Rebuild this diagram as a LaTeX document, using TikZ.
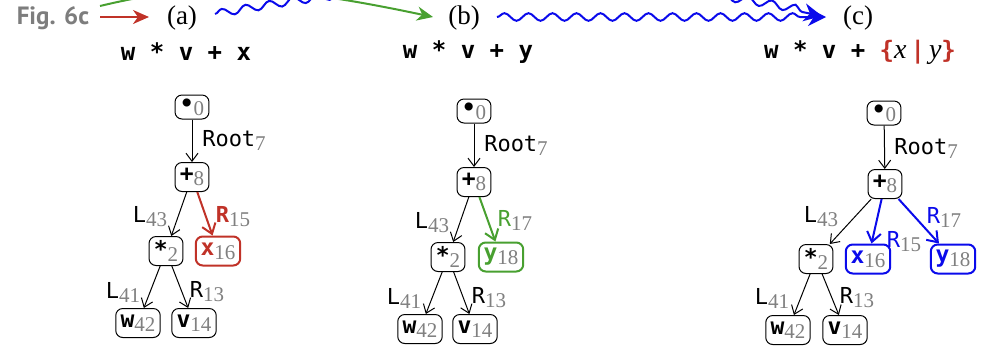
\documentclass[tikz,border=0pt]{standalone}
\usepackage{fontspec}
\setmonofont{DejaVu Sans Mono}
\newfontfamily\figfont{PT Sans}
\newfontfamily\subfont{Liberation Serif}
\usetikzlibrary{arrows.meta,decorations.pathmorphing}
\definecolor{myred}{RGB}{192,50,40}
\definecolor{mygreen}{RGB}{72,160,48}
\definecolor{myblue}{RGB}{10,10,235}
\definecolor{subgray}{RGB}{128,128,128}
\definecolor{figgray}{RGB}{125,125,125}
\newcommand{\sbs}[1]{\raisebox{-2pt}{\fontsize{10.5}{10.5}\selectfont\subfont\color{subgray}#1}}
\newcommand{\nd}[1]{{\ttfamily\bfseries #1}}
\newcommand{\itv}[1]{{\fontsize{14}{14}\selectfont\subfont\itshape\mdseries #1}}
\tikzset{
  tn/.style={draw, rounded corners=3.5pt, line width=0.5pt, inner xsep=2.4pt, inner ysep=0pt,
    minimum height=14.5pt, font=\fontsize{11.5}{11.5}\selectfont},
  rootn/.style={tn, minimum height=12pt},
  cn/.style={tn, line width=1pt},
  lbl/.style={inner sep=0pt, font=\fontsize{11}{11}\selectfont\ttfamily},
  edge/.style={-{Straight Barb[length=4pt,width=6pt]}, line width=0.5pt},
  cedge/.style={-{Straight Barb[length=4.8pt,width=7pt,line width=1pt]}, line width=1pt},
  codeline/.style={inner sep=0pt, font=\fontsize{12}{12}\selectfont\ttfamily\bfseries},
  captxt/.style={inner sep=0pt, font=\fontsize{13.5}{13.5}\selectfont\subfont},
  wave/.style={myblue, line width=1pt, decorate,
    decoration={snake, amplitude=1.9pt, segment length=12pt, post length=8pt}},
}
\begin{document}
\begin{tikzpicture}[x=0.5pt,y=-0.5pt]
\useasboundingbox (0,0) rectangle (984,349);
\clip (0,0) rectangle (984,349);

% header
\node[inner sep=0pt, font=\fontsize{12.5}{12.5}\selectfont\figfont\bfseries, text=figgray] (fig) at (53,18) {Fig. 6c};
\coordinate (rs) at (100,17);
\coordinate (re) at (149,17);
\coordinate (gs) at (100,6);
\coordinate (ge) at (433,17);
\node[captxt] (ca) at (182,18) {(a)};
\node[captxt] (cb) at (464,18) {(b)};
\node[captxt] (cc) at (858,18) {(c)};
\draw[myred, line width=1pt, -{Stealth[length=8pt,width=7pt,inset=2.5pt]}] (rs) -- (re);
\draw[mygreen, line width=1pt, -{Stealth[length=8pt,width=7pt,inset=2.5pt]}] (gs) .. controls (200,-18) and (273,-17) .. (ge);
\coordinate (wa) at (215,14);
\coordinate (wb) at (497,17);
\coordinate (wt) at (826,17);
\coordinate (wt2) at (822,16);
\draw[wave, -{Stealth[length=9pt,width=9pt]}] (wa) .. controls (431,-25) and (610,-28) .. (wt2);
\draw[wave, -{Stealth[length=9pt,width=9pt]}] (wb) -- (wt);

% code lines
\node[codeline] (la) at (186,52) {w * v + x};
\node[codeline] (lb) at (468,52) {w * v + y};
\node[codeline] (lc) at (860,52) {w * v + {\color{myred}\{}\itv{x}\,{\color{myred}|}\,\itv{y}{\color{myred}\}}};

% tree (a)
\node[rootn] (a0) at (192,107) {\nd{\textbullet}\sbs{0}};
\node[tn] (a1) at (192,177) {\nd{+}\sbs{8}};
\node[tn] (a2) at (166,251) {\nd{*}\sbs{2}};
\node[cn, draw=myred] (a3) at (218,251) {\nd{\color{myred}x}\sbs{16}};
\node[tn] (a4) at (138,323) {\nd{w}\sbs{42}};
\node[tn] (a5) at (194,323) {\nd{v}\sbs{14}};
\draw[edge] (a0) -- (a1);
\draw[edge] (a1) -- (a2);
\draw[cedge, myred] (a1) -- (a3);
\draw[edge] (a2) -- (a4);
\draw[edge] (a2) -- (a5);
\node[lbl] (a0l) at (234,140) {Root\sbs{7}};
\node[lbl] (a2l) at (150,217) {L\sbs{43}};
\node[lbl] (a3l) at (233,217) {{\color{myred}\bfseries R}\sbs{15}};
\node[lbl] (a4l) at (123,292) {L\sbs{41}};
\node[lbl] (a5l) at (207,292) {R\sbs{13}};

% tree (b)
\node[rootn] (b0) at (474,111) {\nd{\textbullet}\sbs{0}};
\node[tn] (b1) at (474,182) {\nd{+}\sbs{8}};
\node[tn] (b2) at (448,257) {\nd{*}\sbs{2}};
\node[cn, draw=mygreen] (b3) at (501,257) {\nd{\color{mygreen}y}\sbs{18}};
\node[tn] (b4) at (420,329) {\nd{w}\sbs{42}};
\node[tn] (b5) at (475,329) {\nd{v}\sbs{14}};
\draw[edge] (b0) -- (b1);
\draw[edge] (b1) -- (b2);
\draw[cedge, mygreen] (b1) -- (b3);
\draw[edge] (b2) -- (b4);
\draw[edge] (b2) -- (b5);
\node[lbl] (b0l) at (516,145) {Root\sbs{7}};
\node[lbl] (b2l) at (432,223) {L\sbs{43}};
\node[lbl] (b3l) at (515,220) {{\color{mygreen}R}\sbs{17}};
\node[lbl] (b4l) at (404,298) {L\sbs{41}};
\node[lbl] (b5l) at (489,298) {R\sbs{13}};

% tree (c)
\node[rootn] (c0) at (884,113) {\nd{\textbullet}\sbs{0}};
\node[tn] (c1) at (885,184) {\nd{+}\sbs{8}};
\node[tn] (c2) at (816,259) {\nd{*}\sbs{2}};
\node[cn, draw=myblue] (c3) at (868,259) {\nd{\color{myblue}x}\sbs{16}};
\node[cn, draw=myblue] (c6) at (953,259) {\nd{\color{myblue}y}\sbs{18}};
\node[tn] (c4) at (788,330) {\nd{w}\sbs{42}};
\node[tn] (c5) at (845,330) {\nd{v}\sbs{14}};
\draw[edge] (c0) -- (c1);
\draw[edge] (c1) -- (c2);
\draw[cedge, myblue] (c1) -- (c3);
\draw[cedge, myblue] (c1) -- (c6);
\draw[edge] (c2) -- (c4);
\draw[edge] (c2) -- (c5);
\node[lbl] (c0l) at (926,148) {Root\sbs{7}};
\node[lbl] (c2l) at (821,217) {L\sbs{43}};
\node[lbl] (c3l) at (904,242) {{\color{myblue}R}\sbs{15}};
\node[lbl] (c6l) at (944,217) {{\color{myblue}R}\sbs{17}};
\node[lbl] (c4l) at (772,298) {L\sbs{41}};
\node[lbl] (c5l) at (857,298) {R\sbs{13}};
\end{tikzpicture}
\end{document}
